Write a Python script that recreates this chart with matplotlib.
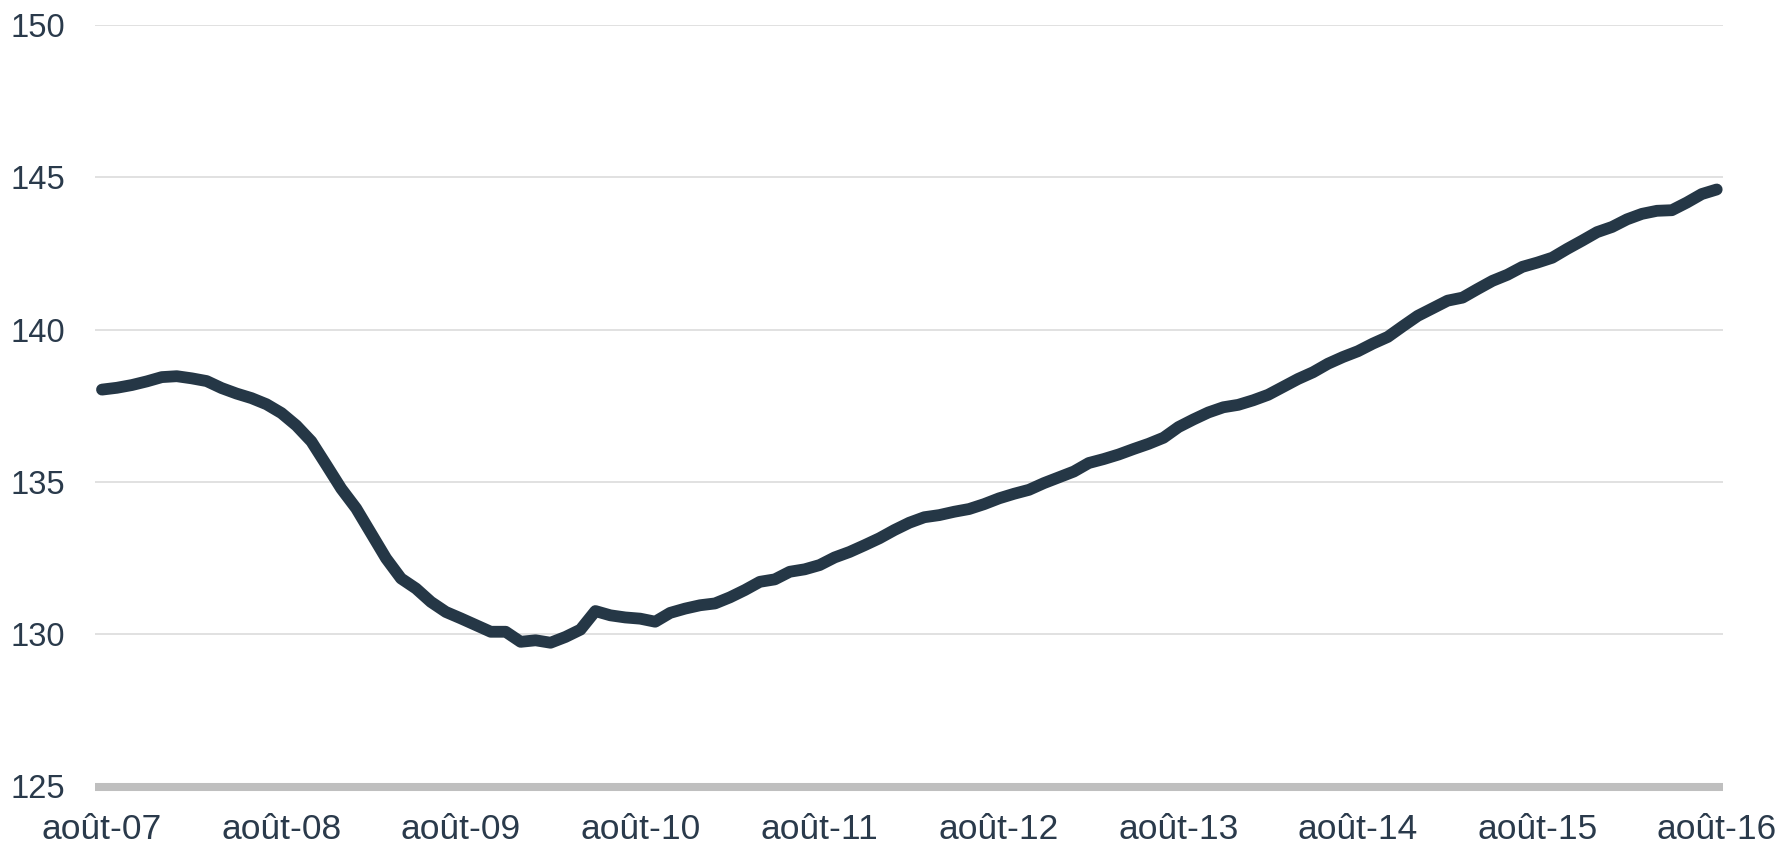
import numpy as np
import matplotlib
matplotlib.use("Agg")
import matplotlib.pyplot as plt

plt.rcParams['font.family'] = ['Liberation Sans', 'DejaVu Sans']

# monthly index values, août 2007 -> août 2016
values = [
    138.03, 138.09, 138.18, 138.30, 138.44, 138.47, 138.40, 138.31, 138.08, 137.90,
    137.75, 137.55, 137.26, 136.85, 136.33, 135.56, 134.78, 134.13, 133.31, 132.49,
    131.83, 131.50, 131.06, 130.73, 130.52, 130.30, 130.08, 130.08, 129.75, 129.80,
    129.72, 129.91, 130.15, 130.76, 130.62, 130.55, 130.51, 130.41, 130.70, 130.84,
    130.95, 131.01, 131.21, 131.45, 131.72, 131.80, 132.05, 132.13, 132.27, 132.52,
    132.70, 132.92, 133.15, 133.42, 133.66, 133.84, 133.91, 134.02, 134.11, 134.27,
    134.46, 134.61, 134.74, 134.96, 135.15, 135.34, 135.62, 135.75, 135.90, 136.08,
    136.25, 136.45, 136.80, 137.05, 137.28, 137.45, 137.53, 137.68, 137.86, 138.12,
    138.38, 138.60, 138.88, 139.10, 139.29, 139.54, 139.76, 140.11, 140.45, 140.70,
    140.95, 141.05, 141.33, 141.60, 141.80, 142.06, 142.20, 142.36, 142.65, 142.92,
    143.20, 143.37, 143.62, 143.80, 143.90, 143.92, 144.17, 144.45, 144.60,
]
tick_labels = ["août-07", "août-08", "août-09", "août-10", "août-11",
               "août-12", "août-13", "août-14", "août-15", "août-16"]
y_ticks = [125, 130, 135, 140, 145, 150]

line_color = "#253746"
text_color = "#2a3a4b"

x = np.arange(len(values))

fig = plt.figure(figsize=(17.83, 8.52), dpi=100)
ax = fig.add_axes([95.5 / 1783, 1 - 786.5 / 852, (1722.7 - 95.5) / 1783, (786.5 - 25) / 852])

ax.plot(x, values, color=line_color, lw=8.5, solid_capstyle="round",
        solid_joinstyle="round", zorder=3)

ax.set_ylim(125, 150)
ax.set_yticks(y_ticks)
ax.set_xlim(-0.435, 108.4)
ax.set_xticks(x[::12])
ax.set_xticklabels(tick_labels)

ax.grid(axis="y", color="#d9d9d9", lw=1.1, zorder=1)
for s in ["top", "right", "left"]:
    ax.spines[s].set_visible(False)
ax.spines["bottom"].set_color("#bfbfbf")
ax.spines["bottom"].set_linewidth(5.8)
ax.spines["bottom"].set_capstyle("butt")
ax.spines["bottom"].set_zorder(2)

ax.tick_params(axis="both", length=0, labelcolor=text_color)
ax.tick_params(axis="y", pad=22, labelsize=23.5)
ax.tick_params(axis="x", pad=19, labelsize=25.5)

fig.savefig("out.png", dpi=100)
